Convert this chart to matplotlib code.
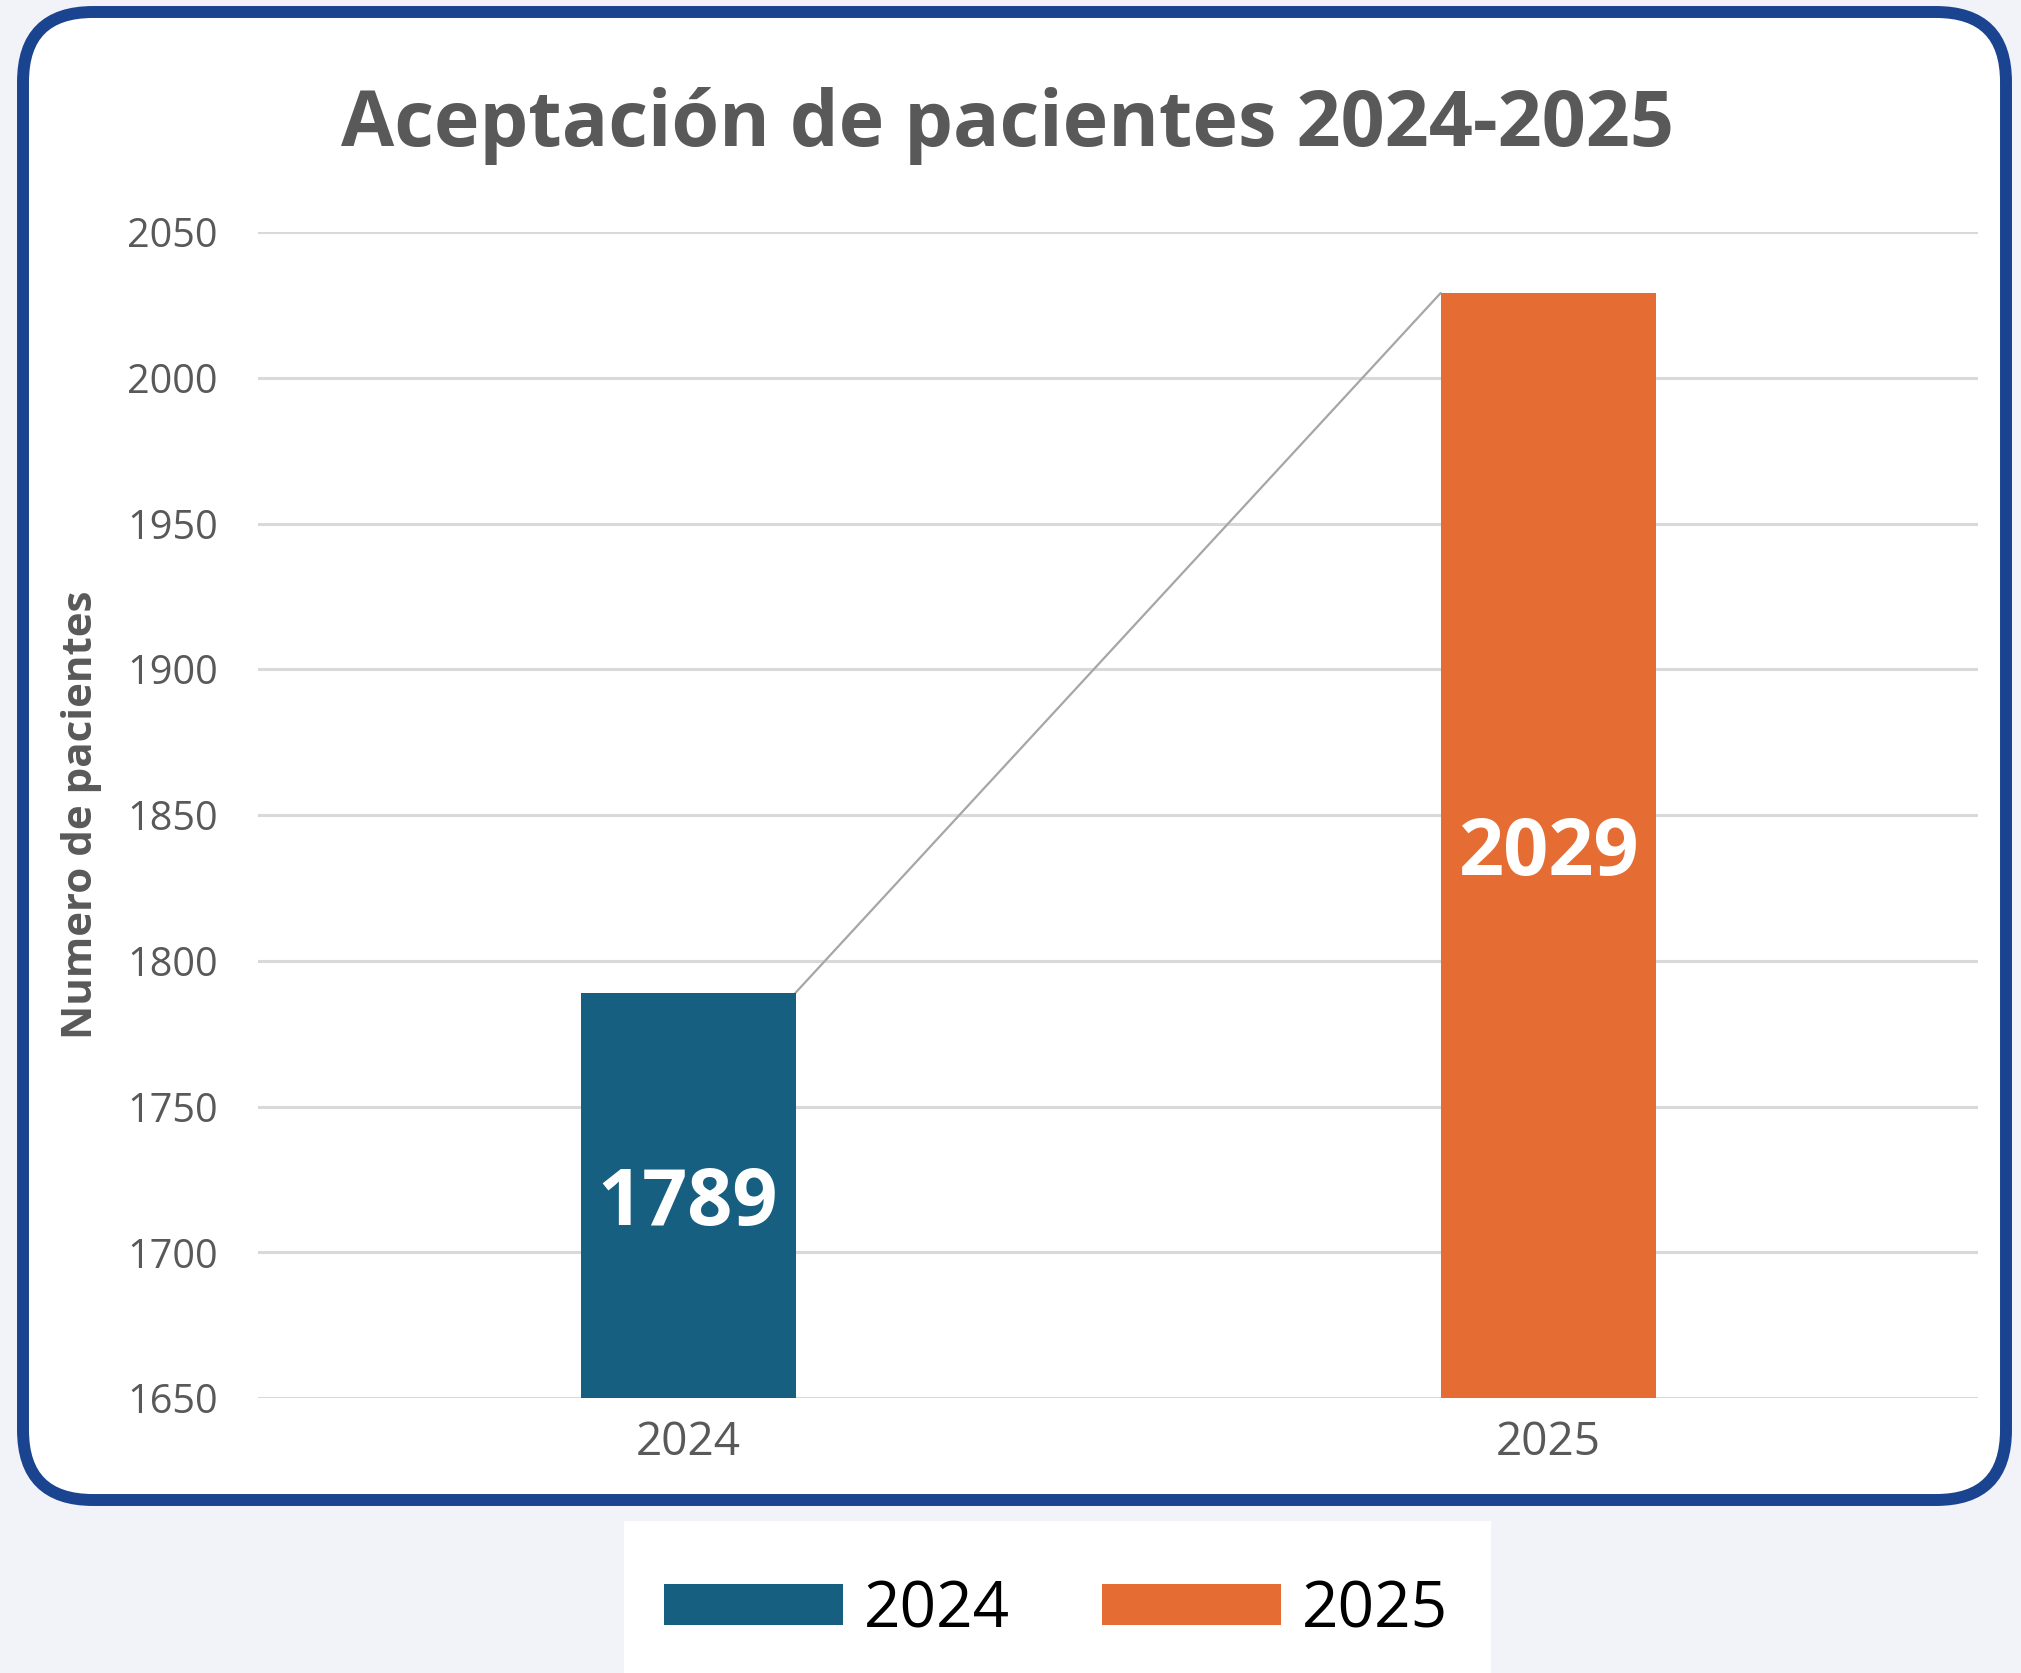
import matplotlib.pyplot as plt
from matplotlib.patches import FancyBboxPatch, Rectangle
from matplotlib.transforms import IdentityTransform

years = ['2024', '2025']
pacientes = [1789, 2029]
colores = ['#165F80', '#E56D34']
yticks = [1650, 1700, 1750, 1800, 1850, 1900, 1950, 2000, 2050]

plt.rcParams['font.family'] = ['Open Sans', 'DejaVu Sans']

W, H = 2021, 1673
fig = plt.figure(figsize=(W / 100, H / 100), dpi=100)
fig.patch.set_facecolor('#F2F3F8')

# marco redondeado (en pixeles)
marco = FancyBboxPatch((23 + 70, 173 + 70), 2006 - 23 - 140, 1661 - 173 - 140,
                       boxstyle='round,pad=70', transform=IdentityTransform(),
                       facecolor='white', edgecolor='#1A4390', linewidth=8.6,
                       zorder=0)
fig.patches.append(marco)

# caja blanca de la leyenda
caja = Rectangle((624, 0), 1491 - 624, 152, transform=IdentityTransform(),
                 facecolor='white', edgecolor='none', zorder=0)
fig.patches.append(caja)

ax = fig.add_axes([258 / W, 1 - 1398 / H, (1978 - 258) / W, (1398 - 232) / H])
ax.set_zorder(1)
ax.patch.set_visible(False)

x = [0, 1]
w = 0.25
bars = ax.bar(x, [v - 1650 for v in pacientes], bottom=1650, width=w,
              color=colores, zorder=3)
for b, lab in zip(bars, years):
    b.set_label(lab)

# linea de serie entre las barras
ax.plot([x[0] + w / 2, x[1] - w / 2], pacientes, color='#A6A6A6', lw=1.6,
        zorder=2)

for xi, v in zip(x, pacientes):
    ax.annotate(str(v), (xi, (v + 1650) / 2), xytext=(0, -21),
                textcoords='offset points', ha='center', va='baseline',
                color='white', fontsize=57, fontweight='bold', zorder=4)

ax.set_xlim(-0.5, 1.5)
ax.set_ylim(1650, 2050)
ax.set_yticks(yticks)
ax.set_xticks(x)
ax.set_xticklabels(years)
ax.grid(axis='y', color='#D9D9D9', lw=2.2)
ax.set_axisbelow(True)
for s in ax.spines.values():
    s.set_visible(False)
ax.tick_params(axis='y', length=0, pad=29, labelsize=28.5, labelcolor='#595959')
ax.tick_params(axis='x', length=0, pad=16, labelsize=33, labelcolor='#595959')

ax.set_ylabel('Numero de pacientes', fontsize=30.3, fontweight='bold',
              color='#595959', va='center')
ax.yaxis.set_label_coords((82 - 258) / 1720, 0.5)

fig.text(1007 / W, 1 - 146 / H, 'Aceptación de pacientes 2024-2025',
         ha='center', va='baseline', fontsize=55.5, fontweight='bold',
         color='#595959')

fig.legend(handles=list(bars), labels=years, loc='center',
           bbox_to_anchor=(1056 / W, 1 - 1610 / H), ncol=2, frameon=False,
           fontsize=46, handlelength=2.8, handleheight=0.6,
           handletextpad=0.32, columnspacing=1.45, borderpad=0,
           labelcolor='black')

fig.savefig('out.png', dpi=100, facecolor=fig.get_facecolor())
